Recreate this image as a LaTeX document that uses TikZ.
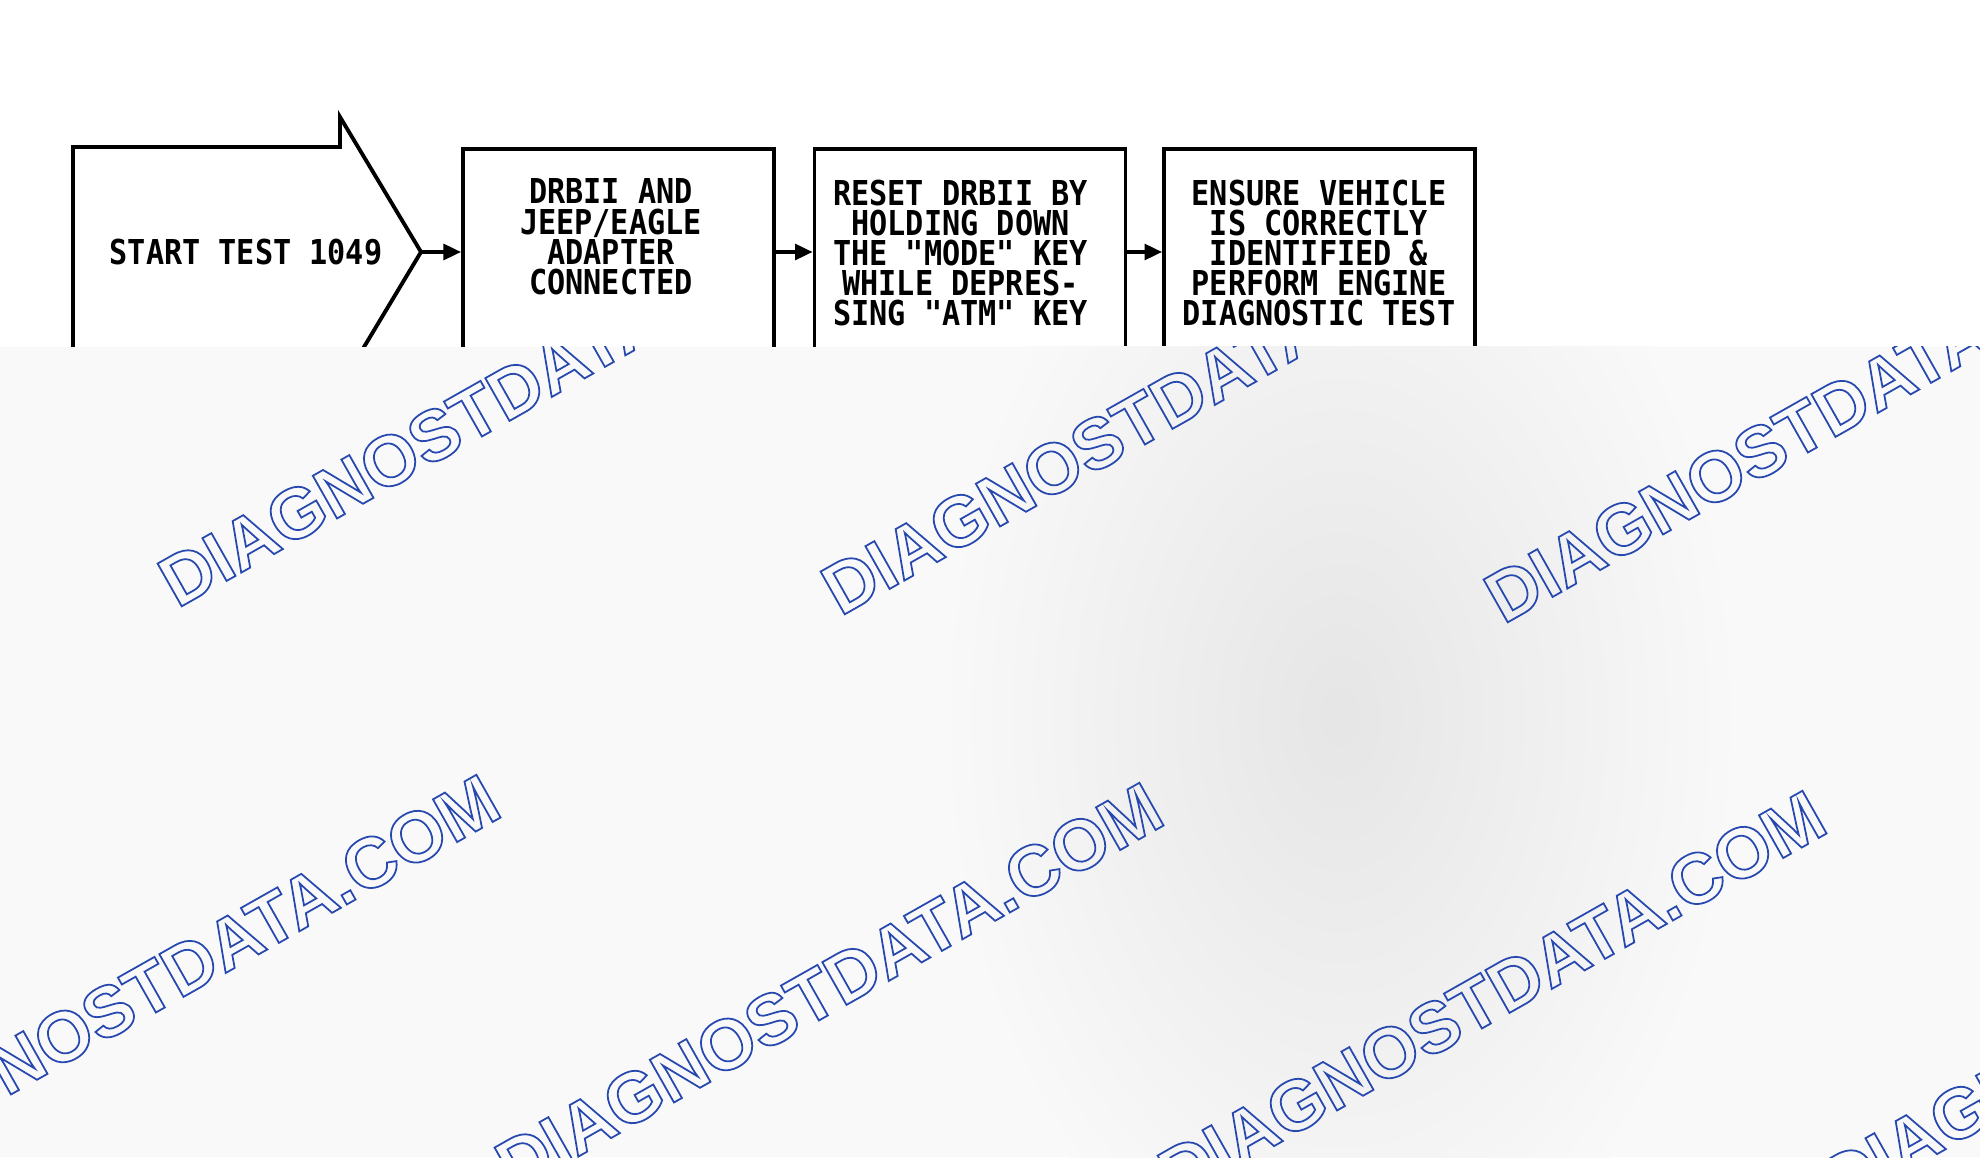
\documentclass[tikz,border=0pt]{standalone}
\usepackage{fontspec}
\usepackage{xcolor}
\usetikzlibrary{positioning}
\usetikzlibrary{arrows.meta}
\newfontfamily\chartfont{DejaVu Sans Mono}[FakeStretch=0.88]
\newfontfamily\markfont{Liberation Sans}
\definecolor{markblue}{RGB}{38,72,175}
\definecolor{veil}{RGB}{249,249,250}
\newcommand{\hollow}[1]{\special{pdf:literal direct 1 Tr 0.5 w}#1\special{pdf:literal direct 0 Tr}}

\begin{document}
\begin{tikzpicture}[
    stepbox/.style={draw, rectangle, line width=1.1pt, minimum width=3.11cm, minimum height=2.06cm, inner sep=0pt},
    steptext/.style={inner sep=0pt, align=center, font={\chartfont\bfseries\fontsize{9.76}{8.6}\selectfont\lineskiplimit=-10pt}},
    flow/.style={-{Triangle[length=5pt,width=4.5pt]}, line width=1pt},
    wmark/.style={anchor=base west, rotate=29.5, inner sep=0pt, text=markblue, font={\markfont\bfseries\fontsize{20.3}{24}\selectfont}}
]
            \useasboundingbox (0,0) rectangle (19.8,11.57);
            \fill[white] (0,0) rectangle (19.8,11.57);

            % Test start and the first steps
            \draw[line width=1.1pt] (0.73,8.00) -- (0.73,10.10) -- (3.40,10.10) -- (3.40,10.40) -- (4.21,9.05) coordinate (tip) -- (3.40,7.70) -- (3.40,8.00) -- cycle;
            \node[steptext] (start) at (2.46,9.05) {START TEST 1049};
            \node[stepbox] (connect) at (6.185,9.05) {};
            \node[stepbox] (reset) at (9.70,9.05) {};
            \node[stepbox] (ensure) at (13.195,9.05) {};
            \node[steptext] (connecttext) at (6.11,9.20) {DRBII AND\\JEEP/EAGLE\\ADAPTER\\CONNECTED};
            \node[steptext] (resettext) at (9.605,9.04) {RESET DRBII BY\\HOLDING DOWN\\THE "MODE" KEY\\WHILE DEPRES-\\SING "ATM" KEY};
            \node[steptext] (ensuretext) at (13.19,9.04) {ENSURE VEHICLE\\IS CORRECTLY\\IDENTIFIED \&\\PERFORM ENGINE\\DIAGNOSTIC TEST};

            \draw[flow] (tip) -- (connect);
            \draw[flow] (connect) -- (reset);
            \draw[flow] (reset) -- (ensure);

            % Cover sheet with the watermark
            \fill[veil] (0,0) rectangle (19.8,8.10);
            \begin{scope}
                \clip (0,0) rectangle (19.8,8.10);
                \shade[inner color=black!10, outer color=veil] (13.4,4.4) ellipse (4.0 and 6.0);
                \node[wmark] (wm1) at (1.77,5.48) {\hollow{DIAGNOSTDATA.COM}};
                \node[wmark] (wm2) at (8.40,5.40) {\hollow{DIAGNOSTDATA.COM}};
                \node[wmark] (wm3) at (15.03,5.32) {\hollow{DIAGNOSTDATA.COM}};
                \node[wmark] (wm4) at (-1.49,-0.28) {\hollow{DIAGNOSTDATA.COM}};
                \node[wmark] (wm5) at (5.14,-0.36) {\hollow{DIAGNOSTDATA.COM}};
                \node[wmark] (wm6) at (11.77,-0.44) {\hollow{DIAGNOSTDATA.COM}};
                \node[wmark] (wm7) at (18.40,-0.52) {\hollow{DIAGNOSTDATA.COM}};
            \end{scope}
        \end{tikzpicture}
\end{document}
